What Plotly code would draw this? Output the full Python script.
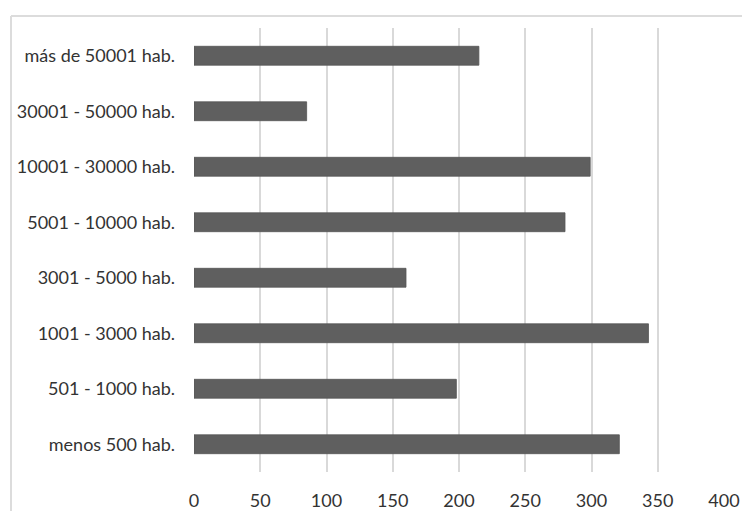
import plotly.graph_objects as go

# Municipalities grouped by population size
categories = [
    "menos 500 hab.",
    "501 - 1000 hab.",
    "1001 - 3000 hab.",
    "3001 - 5000 hab.",
    "5001 - 10000 hab.",
    "10001 - 30000 hab.",
    "30001 - 50000 hab.",
    "más de 50001 hab.",
]
values = [321, 198, 343, 160, 280, 299, 85, 215]
x_ticks = [0, 50, 100, 150, 200, 250, 300, 350, 400]

W, H = 742, 511
ml, mr, mt, mb = 194, 18, 28, 39

fig = go.Figure(
    go.Bar(
        y=categories,
        x=values,
        orientation="h",
        width=0.34,
        marker=dict(color="#5f5f5f", line=dict(color="#555555", width=0.8)),
    )
)

grid = "#d9d9d9"
font_family = "Lato, 'Open Sans', sans-serif"
text_color = "#333333"

fig.update_layout(
    width=W,
    height=H,
    margin=dict(l=ml, r=mr, t=mt, b=mb, autoexpand=False),
    paper_bgcolor="white",
    plot_bgcolor="white",
    showlegend=False,
    font=dict(family=font_family, size=18, color=text_color),
    xaxis=dict(
        range=[0, 400],
        tickvals=x_ticks,
        ticktext=[str(v) for v in x_ticks],
        showgrid=True,
        gridcolor=grid,
        gridwidth=1.5,
        zeroline=False,
        showline=False,
        ticks="",
        automargin=False,
        ticklabelstandoff=16,
        tickfont=dict(size=18, color=text_color),
        fixedrange=True,
    ),
    yaxis=dict(
        categoryorder="array",
        categoryarray=categories,
        range=[-0.5, 7.5],
        showgrid=False,
        zeroline=False,
        showline=False,
        ticks="",
        automargin=False,
        ticklabelstandoff=18,
        tickfont=dict(size=18, color=text_color),
        fixedrange=True,
    ),
)

# Light frame around the chart area (top and left edges)
pw, ph = W - ml - mr, H - mt - mb
fx0 = (11 - ml) / pw
fy1 = (H - mb - 16) / ph
fig.add_shape(type="line", xref="paper", yref="paper",
              x0=fx0, x1=(W - ml + 5) / pw, y0=fy1, y1=fy1,
              line=dict(color="#dcdcdc", width=2))
fig.add_shape(type="line", xref="paper", yref="paper",
              x0=fx0, x1=fx0, y0=fy1, y1=-(mb + 5) / ph,
              line=dict(color="#dcdcdc", width=2))

fig.write_html("out.html")
